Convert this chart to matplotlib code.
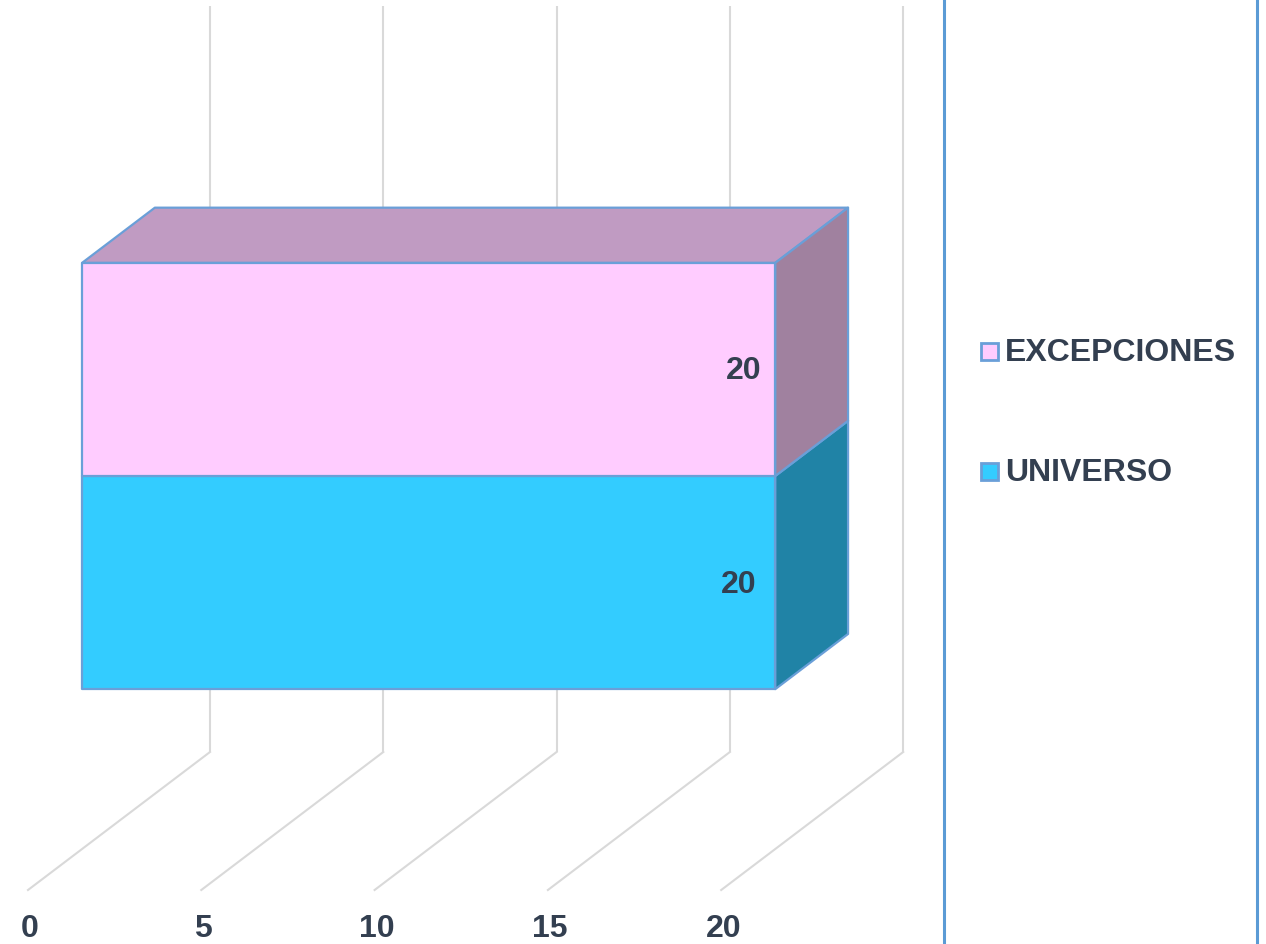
import matplotlib
matplotlib.use("Agg")
import matplotlib.pyplot as plt
from matplotlib.patches import Polygon, Rectangle

# ---- data ----
series_names = ["UNIVERSO", "EXCEPCIONES"]
series_values = [20, 20]
tick_values = [0, 5, 10, 15, 20]
tick_labels = ["0", "5", "10", "15", "20"]

front_colors = ["#33CCFF", "#FFCCFF"]
top_colors = ["#2AA9D4", "#C09BC2"]
side_colors = ["#2083A6", "#A0819F"]
edge_color = "#6A9FD8"
grid_color = "#D9D9D9"
text_color = "#333F50"

plt.rcParams['font.family'] = ['Liberation Sans', 'DejaVu Sans']
FS = 23

W, H = 1266, 944
fig = plt.figure(figsize=(W / 100, H / 100), dpi=100)
ax = fig.add_axes([0, 0, 1, 1])
ax.set_xlim(0, W)
ax.set_ylim(H, 0)
ax.axis('off')

# ---- 3D oblique projection (layout) ----
X0, Y0 = 28.0, 890.0          # front-floor origin in pixels
PX_PER_UNIT = 173.3 / 5.0
DX, DY = 182.0, 138.0         # depth offset
WALL_H = 746.0                # height of back wall
GAP = 1.5                     # Excel gap width
D0, D1 = 0.297, 0.697         # bar depth range


def P(v, h, d):
    return (X0 + v * PX_PER_UNIT + d * DX, Y0 - h - d * DY)


# gridlines: back wall verticals + floor diagonals
for tv in tick_values:
    x1, y1 = P(tv, 0, 1)
    x2, y2 = P(tv, WALL_H, 1)
    ax.plot([x1, x2], [y1, y2], color=grid_color, lw=1.5, zorder=1,
            solid_capstyle='butt')
    x1, y1 = P(tv, 0, 0)
    x2, y2 = P(tv, 0, 1)
    ax.plot([x1, x2], [y1, y2], color=grid_color, lw=1.5, zorder=1)

# tick labels
for tv, tl in zip(tick_values, tick_labels):
    x, y = P(tv, 0, 0)
    ax.text(x + 2, y + 39, tl, ha='center', va='center', fontsize=FS,
            fontweight='bold', color=text_color, zorder=5)

# bars (one category, n series, clustered)
n = len(series_values)
bar_h = WALL_H / (n + GAP)
base = GAP / 2 * bar_h
label_dx = [-19, -14]
for i, (val, name) in enumerate(zip(series_values, series_names)):
    h0 = base + i * bar_h
    h1 = h0 + bar_h
    front = [P(0, h0, D0), P(val, h0, D0), P(val, h1, D0), P(0, h1, D0)]
    side = [P(val, h0, D0), P(val, h0, D1), P(val, h1, D1), P(val, h1, D0)]
    top = [P(0, h1, D0), P(val, h1, D0), P(val, h1, D1), P(0, h1, D1)]
    for pts, c in ((top, top_colors[i]), (side, side_colors[i]), (front, front_colors[i])):
        ax.add_patch(Polygon(pts, closed=True, facecolor=c, edgecolor=edge_color,
                             lw=1.6, joinstyle='round', zorder=3 + i))
    lx, ly = P(val, (h0 + h1) / 2, D0)
    ax.text(lx + label_dx[i], ly + 2, str(val), ha='right', va='center',
            fontsize=FS, fontweight='bold', color=text_color, zorder=6)

# legend panel borders
for xb in (943.5, 1256.5):
    ax.plot([xb, xb], [0, H], color="#5B9BD5", lw=2.2, zorder=2)

legend_y = {1: 352, 0: 472}
for i, name in enumerate(series_names):
    y = legend_y[i]
    ax.add_patch(Rectangle((981, y - 9), 17, 17, facecolor=front_colors[i],
                           edgecolor=edge_color, lw=2, zorder=4))
    ax.text(1005, y + 1, name, ha='left', va='center', fontsize=FS,
            fontweight='bold', color=text_color, zorder=5)

fig.savefig("out.png", dpi=100)
